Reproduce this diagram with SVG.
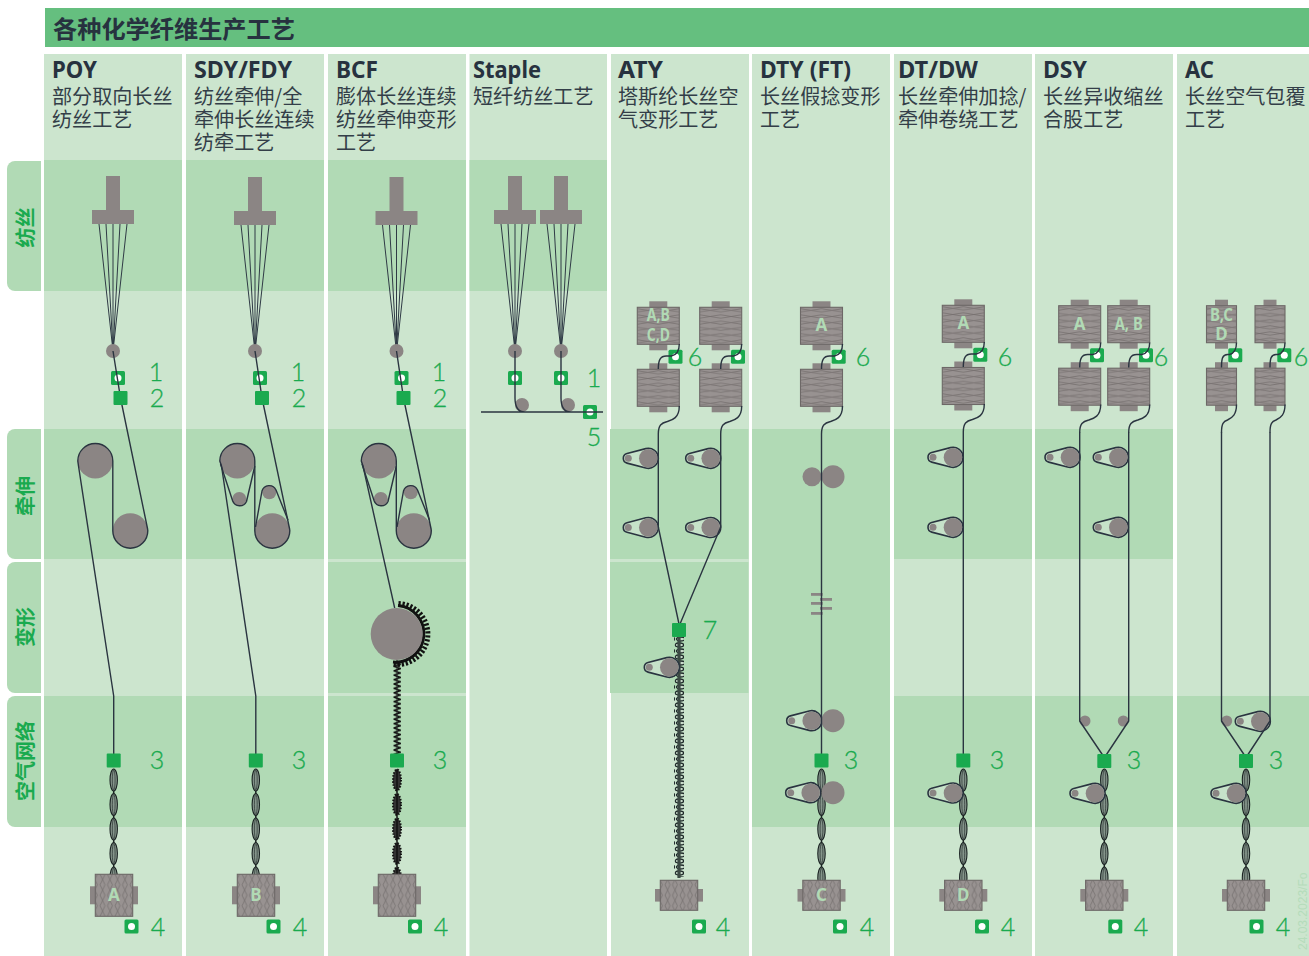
<svg xmlns="http://www.w3.org/2000/svg" xmlns:xlink="http://www.w3.org/1999/xlink" width="1309" height="956" viewBox="0 0 1309 956">
<style>
.l{fill:#cce5ce}.d{fill:#b1dab5}
.g{fill:#8b8584}
.t{fill:none;stroke:#2a3440;stroke-width:1.4;stroke-linejoin:round}
.f{fill:none;stroke:#2f3a45;stroke-width:1}
.bl{fill:#c6e2c9;stroke:#2a3440;stroke-width:1.600}
.h{font:700 24px "Noto Sans","Noto Sans CJK SC",sans-serif;fill:#27323f}
.c{font:400 20.100px "Noto Sans CJK SC",sans-serif;fill:#333e48}
.tt{font:700 24.200px "Noto Sans CJK SC",sans-serif;fill:#27323f}
.s{font:700 20px "Noto Sans CJK SC",sans-serif;fill:#1aaa4f;text-anchor:middle}
.n{font:300 25px "Lato","Open Sans",sans-serif;fill:#1aaa4f;stroke:#1aaa4f;stroke-width:.3;text-anchor:middle}
.p{font:700 17px "Noto Sans",sans-serif;fill:#b1dab5;text-anchor:middle}
</style>
<defs>
<pattern id="pb" patternUnits="userSpaceOnUse" width="42" height="6.2"><rect width="42" height="6.200" fill="#989291"/><path d="M0 1.500 L21 4.700 L42 1.500 M0 4.700 L21 1.500 L42 4.700" fill="none" stroke="#75706f" stroke-width="0.800"/></pattern>
<pattern id="pk" patternUnits="userSpaceOnUse" width="7.5" height="21"><rect width="7.500" height="21" fill="#989291"/><path d="M1 0 L6 10.500 L1 21 M6 0 L1 10.500 L6 21" fill="none" stroke="#75706f" stroke-width="0.800"/></pattern>
<pattern id="py" patternUnits="userSpaceOnUse" x="-5" width="10" height="12"><ellipse cx="5.600" cy="3" rx="4.200" ry="2" fill="#c9dccb" stroke="#1f2a2a" stroke-width="1.300"/><ellipse cx="4.400" cy="9" rx="4.200" ry="2" fill="#c9dccb" stroke="#1f2a2a" stroke-width="1.300"/></pattern>
<pattern id="pz" patternUnits="userSpaceOnUse" x="393" y="662" width="8" height="4.4"><path d="M0.600 0 L7.400 2.200 L0.600 4.400" fill="none" stroke="#111" stroke-width="1.500"/></pattern>
<g id="spin"><rect class="g" x="-7" y="-34" width="14" height="34"/><rect class="g" x="-21" y="0" width="42" height="14"/></g>
<g id="fil"><path class="f" d="M-14 14 L0 141 M-7 14 L0 141 M0 14 L0 141 M7 14 L0 141 M14 14 L0 141"/></g>
<g id="bob"><rect class="g" x="-9" y="-24.500" width="18" height="49"/><rect x="-21" y="-18.500" width="42" height="37" fill="url(#pb)" stroke="#6d6867" stroke-width="1.100"/></g>
<g id="bobn"><rect class="g" x="-6.500" y="-24.500" width="13" height="49"/><rect x="-15" y="-18.500" width="30" height="37" fill="url(#pb)" stroke="#6d6867" stroke-width="1.100"/></g>
<g id="pkl"><rect class="g" x="-24" y="-9" width="48" height="18"/><rect x="-18.700" y="-21" width="37.400" height="42" fill="url(#pk)" stroke="#6d6867" stroke-width="1.100"/></g>
<g id="pks"><rect class="g" x="-24" y="-6.300" width="48" height="12.600"/><rect x="-18.700" y="-15" width="37.400" height="30" fill="url(#pk)" stroke="#6d6867" stroke-width="1.100"/></g>
<g id="sqh"><rect x="-7" y="-7" width="14" height="14" rx="1.500" fill="#1aaa4f"/><circle r="3.500" fill="#fff"/></g>
<rect id="sq" x="-7" y="-7" width="14" height="14" rx="1" fill="#1aaa4f"/>
<g id="belt"><path class="bl" d="M-2.500 -9.680 L-21.250 -4.840 A5 5 0 0 0 -21.250 4.840 L-2.500 9.680 A10 10 0 1 0 -2.500 -9.680Z"/><circle class="g" r="9.300"/><circle class="g" cx="-20" r="3.500"/></g>
<g id="braid"><path d="M0 0 V110" fill="none" stroke="#1a2222" stroke-width="1.500"/><g fill="#85958b" stroke="#1a2222" stroke-width="1.100"><ellipse cy="11" rx="3.700" ry="11"/><ellipse cy="35.500" rx="3.700" ry="11"/><ellipse cy="60" rx="3.700" ry="11"/><ellipse cy="84.500" rx="3.700" ry="11"/><ellipse cy="109" rx="3.700" ry="11"/></g><g fill="none" stroke="#1a2222" stroke-width="0.600"><ellipse cy="11" rx="1.400" ry="10"/><ellipse cy="35.500" rx="1.400" ry="10"/><ellipse cy="60" rx="1.400" ry="10"/><ellipse cy="84.500" rx="1.400" ry="10"/><ellipse cy="109" rx="1.400" ry="10"/></g></g>
<path id="t6" class="t" d="M21 18 C21 26 18 29 13 30 L8 30 C2 30 0 34 0 43"/>
<path id="t7" class="t" d="M21 80 C21 92 14 94 9 95.500 C3 97 0 99 0 108"/>
<path id="t6n" class="t" d="M15 18 C15 26 12 29 8 30 L6 30 C1 30 0 34 0 43"/>
<path id="t7n" class="t" d="M15 80 C15 90 11 93 6 95.500 C2 97 0 99 0 108"/>
</defs>

<g id="background">
<rect x="45" y="8" width="1264" height="39" fill="#65bf7f"/>
<rect class="l" x="44" y="54" width="138" height="902"/><rect class="l" x="186" y="54" width="138" height="902"/><rect class="l" x="328" y="54" width="138" height="902"/><rect class="l" x="469.500" y="54" width="137.500" height="902"/><rect class="l" x="611" y="54" width="138" height="902"/><rect class="l" x="752" y="54" width="138" height="902"/><rect class="l" x="894" y="54" width="138" height="902"/><rect class="l" x="1035" y="54" width="138" height="902"/><rect class="l" x="1177" y="54" width="132" height="902"/>
<rect class="d" x="44" y="160" width="138" height="131"/><rect class="d" x="186" y="160" width="138" height="131"/><rect class="d" x="328" y="160" width="138" height="131"/><rect class="d" x="469.500" y="160" width="137.500" height="131"/>
<rect class="d" x="44" y="429" width="138" height="130"/><rect class="d" x="186" y="429" width="138" height="130"/><rect class="d" x="328" y="429" width="138" height="130"/>
<rect class="d" x="610" y="429" width="138.500" height="130"/><rect class="l" x="610" y="559" width="139" height="3"/><rect class="d" x="610" y="562" width="138.500" height="131"/>
<rect class="d" x="752" y="429" width="138" height="398"/>
<rect class="d" x="894" y="429" width="138" height="130"/><rect class="d" x="1035" y="429" width="138" height="130"/>
<rect class="d" x="328" y="562" width="138" height="131"/>
<rect class="d" x="44" y="696" width="138" height="131"/><rect class="d" x="186" y="696" width="138" height="131"/><rect class="d" x="328" y="696" width="138" height="131"/><rect class="d" x="894" y="696" width="138" height="131"/><rect class="d" x="1035" y="696" width="138" height="131"/><rect class="d" x="1177" y="696" width="132" height="131"/>
</g>
<g id="title"><text class="tt" x="53" y="37.500">各种化学纤维生产工艺</text></g>
<g id="stage-spin"><path class="d" d="M41 161 H15 A8 8 0 0 0 7 169 V283 A8 8 0 0 0 15 291 H41Z"/><text class="s" transform="translate(33 227.500) rotate(-90)">纺丝</text></g>
<g id="stage-draw"><path class="d" d="M41 429 H15 A8 8 0 0 0 7 437 V551 A8 8 0 0 0 15 559 H41Z"/><text class="s" transform="translate(33 496) rotate(-90)">牵伸</text></g>
<g id="stage-tex"><path class="d" d="M41 562 H15 A8 8 0 0 0 7 570 V685 A8 8 0 0 0 15 693 H41Z"/><text class="s" transform="translate(33 627) rotate(-90)">变形</text></g>
<g id="stage-air"><path class="d" d="M41 696 H15 A8 8 0 0 0 7 704 V819 A8 8 0 0 0 15 827 H41Z"/><text class="s" transform="translate(33 761) rotate(-90)">空气网络</text></g>

<g id="col-poy">
<text class="h" x="52" y="78" textLength="45" lengthAdjust="spacingAndGlyphs">POY</text><text class="c" x="52" y="104">部分取向长丝</text><text class="c" x="52" y="127">纺丝工艺</text>
<use href="#spin" x="113" y="210"/><use href="#fil" x="113" y="210"/><circle class="g" cx="113" cy="351" r="7"/>
<use href="#sqh" x="118" y="378"/>
<circle class="g" cx="95.300" cy="461" r="17.500"/><circle class="g" cx="130.300" cy="530.700" r="17.500"/>
<text class="n" x="156" y="380.500">1</text><text class="n" x="157" y="406.500">2</text><text class="n" x="157" y="768.500">3</text><text class="n" x="158" y="935.500">4</text>
<use href="#sqh" x="131.500" y="926.500"/>
</g>
<g id="col-sdy">
<text class="h" x="194" y="78" textLength="98" lengthAdjust="spacingAndGlyphs">SDY/FDY</text><text class="c" x="194" y="104">纺丝牵伸/全</text><text class="c" x="194" y="127">牵伸长丝连续</text><text class="c" x="194" y="150">纺牵工艺</text>
<use href="#spin" x="255" y="211"/><use href="#fil" x="255" y="211"/><circle class="g" cx="255" cy="351" r="7"/>
<use href="#sqh" x="260" y="378"/>
<circle class="g" cx="237.300" cy="461" r="17.500"/><circle class="g" cx="272.300" cy="530.700" r="17.500"/><circle class="g" cx="239.300" cy="499" r="7"/><circle class="g" cx="269.300" cy="492.300" r="7"/>
<text class="n" x="298" y="380.500">1</text><text class="n" x="299" y="406.500">2</text><text class="n" x="299" y="768.500">3</text><text class="n" x="300" y="935.500">4</text>
<use href="#sqh" x="273.500" y="926.500"/>
</g>
<g id="col-bcf">
<text class="h" x="336" y="78" textLength="42" lengthAdjust="spacingAndGlyphs">BCF</text><text class="c" x="336" y="104">膨体长丝连续</text><text class="c" x="336" y="127">纺丝牵伸变形</text><text class="c" x="336" y="150">工艺</text>
<use href="#spin" x="396.500" y="211"/><use href="#fil" x="396.500" y="211"/><circle class="g" cx="396.500" cy="351" r="7"/>
<use href="#sqh" x="401.500" y="378"/>
<circle class="g" cx="378.800" cy="461" r="17.500"/><circle class="g" cx="413.800" cy="530.700" r="17.500"/><circle class="g" cx="380.800" cy="499" r="7"/><circle class="g" cx="410.800" cy="492.300" r="7"/>
<text class="n" x="439" y="380.500">1</text><text class="n" x="440" y="406.500">2</text><text class="n" x="440" y="768.500">3</text><text class="n" x="441" y="935.500">4</text>
<use href="#sqh" x="415" y="926.500"/>
</g>
<g id="col-staple">
<text class="h" x="473" y="78" textLength="68" lengthAdjust="spacingAndGlyphs">Staple</text><text class="c" x="473" y="104">短纤纺丝工艺</text>
<use href="#spin" x="515" y="210"/><use href="#fil" x="515" y="210"/><use href="#spin" x="561" y="210"/><use href="#fil" x="561" y="210"/>
<circle class="g" cx="515" cy="351" r="7"/><circle class="g" cx="561" cy="351" r="7"/><circle class="g" cx="522" cy="405" r="7"/><circle class="g" cx="568" cy="405" r="7"/>
<use href="#sqh" x="515" y="378"/><use href="#sqh" x="561" y="378"/><use href="#sqh" x="590" y="412"/>
<text class="n" x="594" y="386.500">1</text><text class="n" x="594" y="445.500">5</text>
</g>
<g id="col-aty">
<text class="h" x="618" y="78" textLength="45" lengthAdjust="spacingAndGlyphs">ATY</text><text class="c" x="618" y="104">塔斯纶长丝空</text><text class="c" x="618" y="127">气变形工艺</text>
<use href="#bob" x="658.300" y="325.800"/><use href="#bob" x="658.300" y="387.800"/><use href="#bob" x="720.700" y="325.800"/><use href="#bob" x="720.700" y="387.800"/>
<text class="p" x="658.300" y="321" textLength="23" lengthAdjust="spacingAndGlyphs">A,B</text><text class="p" x="658.300" y="340.500" textLength="23" lengthAdjust="spacingAndGlyphs">C,D</text>
<use href="#sqh" x="675.500" y="356.800"/><use href="#sqh" x="738" y="356.800"/>
<use href="#belt" x="648.300" y="458.300"/><use href="#belt" x="710.700" y="458.300"/><use href="#belt" x="648.300" y="527.500"/><use href="#belt" x="710.700" y="527.500"/>
<text class="n" x="695" y="365.500">6</text><text class="n" x="710" y="638.500">7</text><text class="n" x="723" y="935.500">4</text>
<use href="#sqh" x="699" y="926.500"/>
</g>
<g id="col-dty">
<text class="h" x="760" y="78" textLength="91" lengthAdjust="spacingAndGlyphs">DTY (FT)</text><text class="c" x="760" y="104">长丝假捻变形</text><text class="c" x="760" y="127">工艺</text>
<use href="#bob" x="821.500" y="325.800"/><use href="#bob" x="821.500" y="387.800"/>
<text class="p" x="821.500" y="331">A</text>
<use href="#sqh" x="838.700" y="356.800"/>
<circle class="g" cx="812" cy="476.700" r="9.500"/><circle class="g" cx="833" cy="476.700" r="11.500"/>
<rect class="g" x="811" y="593" width="11.700" height="2.800"/><rect class="g" x="811" y="602" width="11.700" height="2.800"/><rect class="g" x="811" y="612" width="11.700" height="2.800"/><rect class="g" x="820" y="598" width="12" height="2.800"/><rect class="g" x="820" y="607" width="12" height="2.800"/>
<use href="#belt" x="811.700" y="720.700"/><circle class="g" cx="833" cy="720.700" r="11.500"/>
<text class="n" x="863" y="365.500">6</text><text class="n" x="851" y="769">3</text><text class="n" x="867" y="935.500">4</text>
<use href="#sqh" x="840" y="926.500"/>
</g>
<g id="col-dtdw">
<text class="h" x="898" y="78" textLength="80" lengthAdjust="spacingAndGlyphs">DT/DW</text><text class="c" x="898" y="104">长丝牵伸加捻/</text><text class="c" x="898" y="127">牵伸卷绕工艺</text>
<use href="#bob" x="963.300" y="323.800"/><use href="#bob" x="963.300" y="386"/>
<text class="p" x="963.300" y="329">A</text>
<use href="#sqh" x="980.300" y="354.800"/>
<use href="#belt" x="953" y="457.300"/><use href="#belt" x="953" y="527.300"/>
<text class="n" x="1005" y="365.500">6</text><text class="n" x="997" y="769">3</text><text class="n" x="1008" y="935.500">4</text>
<use href="#sqh" x="982" y="926.500"/>
</g>
<g id="col-dsy">
<text class="h" x="1043" y="78" textLength="44" lengthAdjust="spacingAndGlyphs">DSY</text><text class="c" x="1043" y="104">长丝异收缩丝</text><text class="c" x="1043" y="127">合股工艺</text>
<use href="#bob" x="1079.700" y="324.200"/><use href="#bob" x="1079.700" y="386.700"/><use href="#bob" x="1128.700" y="324.200"/><use href="#bob" x="1128.700" y="386.700"/>
<text class="p" x="1079.700" y="330">A</text><text class="p" x="1128.700" y="330" textLength="28" lengthAdjust="spacingAndGlyphs">A, B</text>
<use href="#sqh" x="1097" y="355.300"/><use href="#sqh" x="1146" y="355.300"/>
<use href="#belt" x="1070" y="457.300"/><use href="#belt" x="1118.300" y="457.300"/><use href="#belt" x="1118.300" y="527.300"/>
<circle class="g" cx="1085" cy="721" r="5.500"/><circle class="g" cx="1123.300" cy="721" r="5.500"/>
<text class="n" x="1161" y="365.500">6</text><text class="n" x="1134" y="769">3</text><text class="n" x="1141" y="935.500">4</text>
<use href="#sqh" x="1115.300" y="926.500"/>
</g>
<g id="col-ac">
<text class="h" x="1185" y="78" textLength="29" lengthAdjust="spacingAndGlyphs">AC</text><text class="c" x="1185" y="104">长丝空气包覆</text><text class="c" x="1185" y="127">工艺</text>
<use href="#bobn" x="1221.500" y="324.200"/><use href="#bobn" x="1221.500" y="386.700"/><use href="#bobn" x="1270" y="324.200"/><use href="#bobn" x="1270" y="386.700"/>
<text class="p" x="1221.500" y="321" textLength="23" lengthAdjust="spacingAndGlyphs">B,C</text><text class="p" x="1221.500" y="340">D</text>
<use href="#sqh" x="1235.300" y="355.300"/><use href="#sqh" x="1284.300" y="355.300"/>
<circle class="g" cx="1226.700" cy="721" r="5.500"/><use href="#belt" x="1260.300" y="721.300"/>
<text class="n" x="1301" y="365.500">6</text><text class="n" x="1276" y="769">3</text><text class="n" x="1283" y="935.500">4</text>
<use href="#sqh" x="1256.500" y="926.500"/>
<text transform="translate(1307 950) rotate(-90)" font-family="Liberation Sans, sans-serif" font-size="12" fill="#b5dcbb">24.03.2023/Fo</text>
</g>

<g id="connectors">
<path class="t" d="M113 351 L120.500 398 L147.600 529 L147.800 530.700 A17.500 17.500 0 0 1 112.800 530.700 V461 A17.500 17.500 0 0 0 77.800 461 L78.500 466 L113.700 696 V760"/>
<path class="t" d="M255 351 L262 398 L289.600 529 L289.800 530.700 A17.500 17.500 0 0 1 254.800 530.700 V461 A17.500 17.500 0 0 0 219.800 461 L221.500 466 L255.800 696 V760"/>
<path class="t" d="M220.500 464 L232.700 501 A7.500 7.500 0 0 0 246.500 501.500 L254.800 466 M288 520 L276 490 A7.500 7.500 0 0 0 262 491 L255.500 527"/>
<path class="t" d="M396.500 351 L403.500 398 L431.100 529 L431.300 530.700 A17.500 17.500 0 0 1 396.300 530.700 V461 A17.500 17.500 0 0 0 361.300 461 L363 466 L394.700 608"/>
<path class="t" d="M362 464 L374.200 501 A7.500 7.500 0 0 0 388 501.500 L396.300 466 M429.500 520 L417.500 490 A7.500 7.500 0 0 0 403.500 491 L397 527"/>
<path class="t" d="M515 351 V398 Q515 412 525 412 M561 351 V398 Q561 412 571 412 M481 412 H603"/>
<use href="#t6" x="658.300" y="326"/><use href="#t7" x="658.300" y="326"/><use href="#t6" x="720.700" y="326"/><use href="#t7" x="720.700" y="326"/>
<path class="t" d="M658.300 434 V527 L679 624 M720.700 434 V527 L680 624"/>
<use href="#t6" x="821.500" y="326"/><use href="#t7" x="821.500" y="326"/><path class="t" d="M821.500 434 V760"/>
<use href="#t6" x="963.300" y="324"/><use href="#t7" x="963.300" y="324"/><path class="t" d="M963.300 432 V760"/>
<use href="#t6" x="1079.700" y="324.500"/><use href="#t7" x="1079.700" y="324.500"/><use href="#t6" x="1128.700" y="324.500"/><use href="#t7" x="1128.700" y="324.500"/>
<path class="t" d="M1079.700 432 V721 L1103.300 756 M1128.700 432 V721 L1105.500 756"/>
<use href="#t6n" x="1221.500" y="324.500"/><use href="#t7n" x="1221.500" y="324.500"/><use href="#t6n" x="1270" y="324.500"/><use href="#t7n" x="1270" y="324.500"/>
<path class="t" d="M1221.500 432 V721 L1245 756 M1270 432 V721 L1247 756"/>
<use href="#braid" x="113.700" y="769"/><use href="#braid" x="255.800" y="769"/>
<use href="#braid" x="821.500" y="769"/><use href="#braid" x="963.300" y="769"/><use href="#braid" x="1104.300" y="769"/><use href="#braid" x="1246" y="769"/>
<g id="bcf-yarn" fill="#333" stroke="#111" stroke-width="2" stroke-dasharray="1.500 1.500"><ellipse cx="397" cy="780" rx="4" ry="10.500"/><ellipse cx="397" cy="804.500" rx="4" ry="10.500"/><ellipse cx="397" cy="829" rx="4" ry="10.500"/><ellipse cx="397" cy="853.500" rx="4" ry="10.500"/><ellipse cx="397" cy="878" rx="4" ry="10.500"/></g>
<path d="M397 769 V880" stroke="#111" stroke-width="1.500"/>
<rect x="393" y="662" width="8" height="92" fill="url(#pz)"/><path d="M397 660 V756" stroke="#222" stroke-width="1"/>
<rect x="674" y="637" width="10" height="240" fill="url(#py)"/><path d="M679 637 V878" stroke="#3c4a44" stroke-width="3.200"/>
</g>

<g id="overlay">
<g id="texturing-roller"><path d="M398.500 603.500 A30.500 30.500 0 1 1 392 664" fill="none" stroke="#111" stroke-width="5" stroke-dasharray="2.200 1.800"/><path d="M398 605.500 A28 28 0 1 1 393 662" fill="none" stroke="#111" stroke-width="3"/><circle class="g" cx="396.700" cy="634" r="26"/></g>
<use href="#belt" x="669.300" y="667.300"/>
<use href="#belt" x="810.700" y="792.700"/><circle class="g" cx="833" cy="792.700" r="11.500"/>
<use href="#belt" x="953" y="793"/><use href="#belt" x="1095" y="793.300"/><use href="#belt" x="1236" y="793.300"/>
<use href="#sq" x="120.500" y="398"/><use href="#sq" x="262" y="398"/><use href="#sq" x="403.500" y="398"/>
<use href="#sq" x="113.700" y="760.500"/><use href="#sq" x="255.800" y="760.500"/><use href="#sq" x="397" y="760.500"/><use href="#sq" x="679" y="630"/>
<use href="#sq" x="821.500" y="760.500"/><use href="#sq" x="963.300" y="760.500"/><use href="#sq" x="1104.300" y="761"/><use href="#sq" x="1246" y="761"/>
<use href="#pkl" x="114" y="895.300"/><use href="#pkl" x="256" y="895.300"/><use href="#pkl" x="397" y="895.300"/>
<use href="#pks" x="679" y="895.300"/><use href="#pks" x="821.500" y="895.300"/><use href="#pks" x="963.300" y="895.300"/><use href="#pks" x="1104.300" y="895.300"/><use href="#pks" x="1246" y="895.300"/>
<text class="p" x="114" y="901">A</text><text class="p" x="256" y="901">B</text><text class="p" x="821.500" y="901">C</text><text class="p" x="963.300" y="901">D</text>
</g>
</svg>
